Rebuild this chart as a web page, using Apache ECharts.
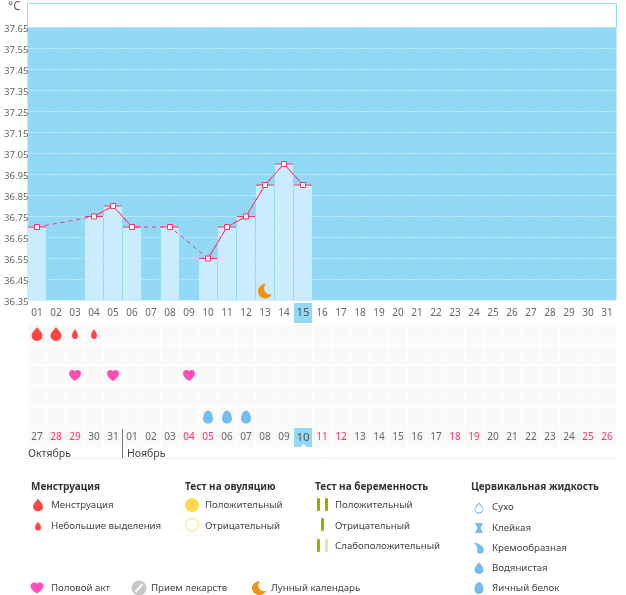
<!DOCTYPE html>
<html><head><meta charset="utf-8">
<style>html,body{margin:0;padding:0;background:#fff}#c{width:626px;height:595px}</style>
<script src="https://cdn.jsdelivr.net/npm/echarts@6/dist/echarts.min.js"></script></head>
<body><div id="c"></div>
<script>
const cycleDays=['01','02','03','04','05','06','07','08','09','10','11','12','13','14','15','16','17','18','19','20','21','22','23','24','25','26','27','28','29','30','31'];
const calDates=['27','28','29','30','31','01','02','03','04','05','06','07','08','09','10','11','12','13','14','15','16','17','18','19','20','21','22','23','24','25','26'];
const weekendIdx=[1,2,8,9,15,16,22,23,29,30];
const todayIdx=14;
const temps=[36.7,null,null,36.75,36.8,36.7,null,36.7,null,36.55,36.7,36.75,36.9,37.0,36.9];
const moonDay=[[12,36.395]];
const menstruationDays=[0,1];
const spottingDays=[2,3];
const sexDays=[2,4,8];
const eggWhiteDays=[9,10,11];
const rowNames=['m','o','s','p','c'];

const DROP='path://M50 0C58 22 100 52 100 88A50 50 0 0 1 0 88C0 52 42 22 50 0Z';
const HEART='path://M50 100C20 78 0 58 0 30C0 12 13 0 28 0C38 0 46 5 50 13C54 5 62 0 72 0C87 0 100 12 100 30C100 58 80 78 50 100Z';
const EGG='path://M50 0C78 0 100 38 100 68C100 90 78 104 50 104C22 104 0 90 0 68C0 38 22 0 50 0Z';
const MOON='path://M58 0C44 12 40 32 48 50C56 66 76 76 100 72C90 90 72 100 52 100C22 100 0 78 0 50C0 24 24 2 58 0Z';
const CREAM='path://M0 0C50 5 100 35 100 65A40 35 0 0 1 30 80C40 60 30 25 0 0Z';
const FONT='"Noto Sans",sans-serif';

const cells=[];
for(let r=0;r<5;r++)for(let i=0;i<31;i++)cells.push([i,r]);

function txt(t,x,y,bold,size){
  return {type:'text',x:x,y:y+0.7,style:{text:t,fill:bold?'#333':'#444',font:(bold?'bold 10px ':(size||9.7)+'px ')+FONT,verticalAlign:'middle'},silent:true};
}
function bar(x,y,w,h,c){return {type:'rect',shape:{x:x,y:y,width:w,height:h,r:1},style:{fill:c},silent:true};}

const graphics=[
 {type:'rect',shape:{x:27.5,y:3.5,width:589,height:24},style:{fill:'#fff',stroke:'#92d9f6',lineWidth:1},silent:true},
 {type:'text',x:8,y:7,style:{text:'°C',fill:'#666',font:'12px '+FONT,verticalAlign:'middle'},silent:true},
 {type:'line',shape:{x1:122.5,y1:429,x2:122.5,y2:458},style:{stroke:'#777',lineWidth:1},silent:true},
 {type:'line',shape:{x1:26,y1:458.5,x2:617,y2:458.5},style:{stroke:'#eee',lineWidth:1},silent:true},
 {type:'polygon',shape:{points:[[300.5,447],[303.5,444],[306.5,447]]},style:{fill:'#fff'},silent:true,z:20},
 txt('Октябрь',28,453,false,10.5),txt('Ноябрь',127,453,false,10.5),
 txt('Менструация',31,486,true),txt('Менструация',51,505),txt('Небольшие выделения',51,526),
 txt('Тест на овуляцию',185,486,true),txt('Положительный',205,505),txt('Отрицательный',205,526),
 {type:'circle',shape:{cx:192,cy:505,r:7},style:{fill:'#ffd84d'},silent:true},
 {type:'circle',shape:{cx:192,cy:525,r:6.5},style:{fill:'#fff',stroke:'#ffdc63',lineWidth:1},silent:true},
 txt('Тест на беременность',315,486,true),txt('Положительный',335,505),txt('Отрицательный',335,526),txt('Слабоположительный',335,546),
 bar(317,498,3,13,'#8db600'),bar(325,498,3,13,'#8db600'),bar(321,518,3,13,'#8db600'),bar(317,539,3,13,'#8db600'),bar(325,539,3,13,'#dbe8b4'),
 txt('Цервикальная жидкость',471,486,true),
 txt('Сухо',492,507),txt('Клейкая',492,528),txt('Кремообразная',492,548),txt('Водянистая',492,568),txt('Яичный белок',492,588),
 {type:'polygon',shape:{points:[[475,523],[483,523],[480.5,528],[483,533],[475,533],[477.5,528]]},style:{fill:'#74bdf0'},silent:true},
 txt('Половой акт',51,588),
 {type:'circle',shape:{cx:139,cy:588,r:7.5},style:{fill:'#c6c6c6'},silent:true},
 {type:'line',shape:{x1:135.5,y1:592,x2:142.5,y2:584},style:{stroke:'#fff',lineWidth:2},silent:true},
 txt('Прием лекарств',151,588),
 txt('Лунный календарь',271,588)
];

function mark(obj){obj.itemStyle=Object.assign({opacity:1},obj.itemStyle);return obj;}
function keyIcon(sym,x,y,w,h,fill,extra){
  return mark({type:'scatter',xAxisIndex:2,yAxisIndex:2,data:[[x,y]],symbol:sym,symbolSize:[w,h],
    itemStyle:Object.assign({color:fill},extra||{}),z:6,silent:true});
}

const option={
 animation:false,
 textStyle:{fontFamily:FONT},
 grid:[
  {left:27.5,top:27.5,width:589,height:273,show:true,backgroundColor:'#92d9f6',borderWidth:0},
  {left:27.5,top:323.5,width:589,height:104,show:false},
  {left:0,top:0,width:626,height:595,show:false}
 ],
 xAxis:[
  {type:'category',gridIndex:0,data:cycleDays,axisLine:{show:false},axisTick:{show:false},splitLine:{show:false},
   axisLabel:{interval:0,margin:2.5,formatter:(v,i)=>i===todayIdx?'{h|'+v+'}':'{n|'+v+'}',
     rich:{n:{color:'#666',fontSize:10,width:19,height:20,align:'center',fontFamily:FONT},
           h:{color:'#555',fontSize:11.5,width:18,height:20,align:'center',backgroundColor:'#92d9f6',fontFamily:FONT}}}},
  {type:'category',gridIndex:1,data:calDates,axisLine:{show:false},axisTick:{show:false},splitLine:{show:false},
   axisLabel:{interval:0,margin:0.5,formatter:(v,i)=>i===todayIdx?'{h|'+v+'}':(weekendIdx.includes(i)?'{w|'+v+'}':'{n|'+v+'}'),
     rich:{n:{color:'#666',fontSize:10,width:18,height:19,align:'center',backgroundColor:'#f9f9f9',fontFamily:FONT},
           w:{color:'#ff3366',fontSize:10,width:18,height:19,align:'center',backgroundColor:'#f9f9f9',fontFamily:FONT},
           h:{color:'#555',fontSize:11.5,width:18,height:19,align:'center',backgroundColor:'#92d9f6',fontFamily:FONT}}}},
  {type:'value',gridIndex:2,min:0,max:626,show:false}
 ],
 yAxis:[
  {type:'value',gridIndex:0,min:36.35,max:37.65,interval:0.1,axisLine:{show:false},axisTick:{show:false},
   splitLine:{show:true,lineStyle:{color:'#fff',type:[1,2],width:1}},
   axisLabel:{margin:-1,color:'#666',fontSize:9.6,fontFamily:FONT,verticalAlign:'top',lineHeight:4,formatter:v=>v.toFixed(2)}},
  {type:'category',gridIndex:1,data:rowNames,inverse:true,axisLine:{show:false},axisTick:{show:false},axisLabel:{show:false},splitLine:{show:false}},
  {type:'value',gridIndex:2,min:0,max:595,inverse:true,show:false}
 ],
 series:[
  {type:'bar',xAxisIndex:0,yAxisIndex:0,data:temps,barWidth:18,itemStyle:{color:'#cbecfe'},z:2,silent:true},
  mark({type:'scatter',xAxisIndex:0,yAxisIndex:0,data:temps.map((t,i)=>t==null?null:[i,t]).filter(Boolean),symbol:'rect',symbolSize:[18,1],itemStyle:{color:'#ff3366'},z:3,silent:true}),
  {type:'line',xAxisIndex:0,yAxisIndex:0,data:temps,connectNulls:true,symbol:'none',lineStyle:{color:'#ff3366',width:1,type:[4,4]},z:4,silent:true},
  {type:'line',xAxisIndex:0,yAxisIndex:0,data:temps,connectNulls:false,showSymbol:true,showAllSymbol:true,symbol:'rect',symbolSize:5,
    itemStyle:{color:'#fff',borderColor:'#ff3366',borderWidth:1},lineStyle:{color:'#ff3366',width:1},z:5,silent:true},
  mark({type:'scatter',xAxisIndex:0,yAxisIndex:0,data:moonDay,symbol:MOON,symbolSize:[14,15],itemStyle:{color:'#f09412'},z:6,silent:true}),
  mark({type:'scatter',xAxisIndex:1,yAxisIndex:1,data:cells,symbol:'rect',symbolSize:[18,19],itemStyle:{color:'#f9f9f9'},z:1,silent:true}),
  mark({type:'scatter',xAxisIndex:1,yAxisIndex:1,data:menstruationDays.map(d=>[d,0]),symbol:DROP,symbolSize:[11,14],itemStyle:{color:'#ff4444'},z:3,silent:true}),
  mark({type:'scatter',xAxisIndex:1,yAxisIndex:1,data:spottingDays.map(d=>[d,0]),symbol:DROP,symbolSize:[6,10],itemStyle:{color:'#ff4444'},z:3,silent:true}),
  mark({type:'scatter',xAxisIndex:1,yAxisIndex:1,data:sexDays.map(d=>[d,2]),symbol:HEART,symbolSize:[12,11],itemStyle:{color:'#ff4db8'},z:3,silent:true}),
  mark({type:'scatter',xAxisIndex:1,yAxisIndex:1,data:eggWhiteDays.map(d=>[d,4]),symbol:EGG,symbolSize:[10,13],itemStyle:{color:'#74bdf0'},z:3,silent:true}),
  keyIcon(DROP,38,505,10,13,'#ff4444'),keyIcon(DROP,38,526,6,9,'#ff4444'),
  keyIcon(DROP,479,508,8,10,'#fff',{borderColor:'#74bdf0',borderWidth:1}),
  keyIcon(CREAM,479,548,10,11,'#74bdf0'),keyIcon(DROP,479,568,9,12,'#74bdf0'),keyIcon(EGG,479,588,9,12,'#74bdf0'),
  keyIcon(HEART,37,588,13,11,'#ff4db8'),keyIcon(MOON,259,588,14,14,'#f09412')
 ],
 graphic:graphics
};
echarts.init(document.getElementById('c'),null,{renderer:'canvas'}).setOption(option);
</script></body></html>
